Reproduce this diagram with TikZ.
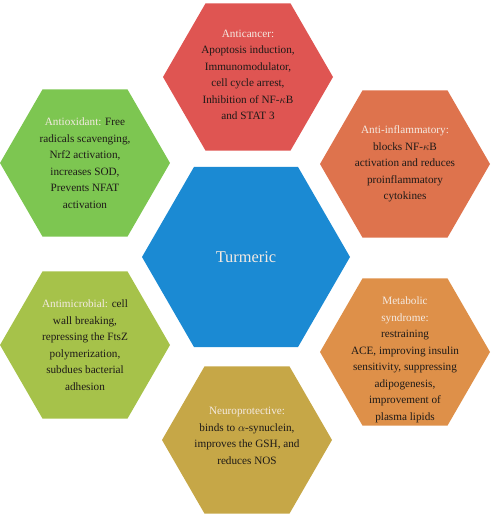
\documentclass[tikz,border=0pt]{standalone}
\usepackage{fontspec}
\setmainfont{Liberation Serif}
\usetikzlibrary{shapes.geometric}
\definecolor{cRed}{HTML}{DF5552}
\definecolor{cGreen}{HTML}{7DC651}
\definecolor{cInfl}{HTML}{DE734D}
\definecolor{cMicro}{HTML}{A6C24A}
\definecolor{cMeta}{HTML}{DE9049}
\definecolor{cNeuro}{HTML}{C6A747}
\definecolor{cBlue}{HTML}{1B8AD3}
\definecolor{cLabel}{HTML}{F4EAE2}
\definecolor{cText}{HTML}{1E1A18}
\tikzset{
  hexa/.style={regular polygon, regular polygon sides=6, minimum size=170pt, inner sep=0pt, outer sep=0pt, draw=none},
  bighexa/.style={hexa, minimum size=208pt},
  txt/.style={align=center, text=cText, font=\fontsize{11.2}{16.5}\selectfont, inner sep=0pt},
}
\newcommand{\lbl}[1]{\textcolor{cLabel}{#1}}
\begin{document}
\begin{tikzpicture}[x=1pt,y=1pt]
\useasboundingbox (0,0) rectangle (491,515);
% centers (pixel y flipped)
\node[bighexa, fill=cBlue] (center) at (246,258) {};
\node[hexa, fill=cRed] (anticancer) at (248,438) {};
\node[hexa, fill=cGreen] (antiox) at (85,352) {};
\node[hexa, fill=cInfl] (antiinfl) at (405,351) {};
\node[hexa, fill=cMicro] (antimicro) at (85,170) {};
\node[hexa, fill=cMeta] (meta) at (405,163) {};
\node[hexa, fill=cNeuro] (neuro) at (247,75) {};

\node[align=center, text=cLabel, font=\fontsize{16.4}{20}\selectfont] (turmeric) at (center) {Turmeric};

\node[txt] (t1) at ([yshift=2]anticancer) {\lbl{Anticancer:}\\Apoptosis induction,\\Immunomodulator,\\cell cycle arrest,\\Inhibition of NF-$\kappa$B\\and STAT 3};
\node[txt] (t2) at ([yshift=0]antiox) {\lbl{Antioxidant:} Free\\radicals scavenging,\\Nrf2 activation,\\increases SOD,\\Prevents NFAT\\activation};
\node[txt] (t3) at ([yshift=0]antiinfl) {\lbl{Anti-inflammatory:}\\blocks NF-$\kappa$B\\activation and reduces\\proinflammatory\\cytokines};
\node[txt] (t4) at ([yshift=0]antimicro) {\lbl{Antimicrobial:} cell\\wall breaking,\\repressing the FtsZ\\polymerization,\\subdues bacterial\\adhesion};
\node[txt] (t5) at ([yshift=-8]meta) {\lbl{Metabolic}\\\lbl{syndrome:}\\restraining\\ACE, improving insulin\\sensitivity, suppressing\\adipogenesis,\\improvement of\\plasma lipids};
\node[txt] (t6) at ([yshift=4]neuro) {\lbl{Neuroprotective:}\\binds to $\alpha$-synuclein,\\improves the GSH, and\\reduces NOS};
\end{tikzpicture}
\end{document}
